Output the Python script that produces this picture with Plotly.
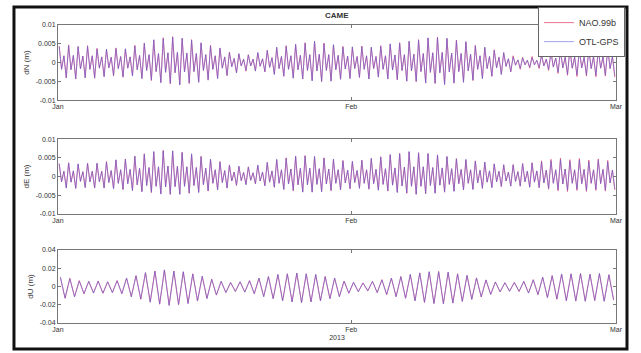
import numpy as np
import pandas as pd
import plotly.graph_objects as go
from plotly.subplots import make_subplots

# ---- data (daily high / low excursions, millimetres), Jan 1 .. Feb 28, 2013 ----
days = pd.date_range("2013-01-01", periods=59, freq="D")

dN_nao_hi = [4.4, 4.7, 4.2, 4.5, 3.8, 3.5, 3.9, 3.6, 4.6, 5.2, 6.0, 6.6, 6.9, 6.4, 6.1,
             5.2, 4.6, 3.8, 2.8, 2.3, 2.1, 2.6, 3.3, 4.0, 4.5, 4.8, 5.3, 5.6, 5.2, 4.7, 4.3,
             4.1, 4.4, 4.0, 4.5, 4.9, 5.3, 5.6, 6.1, 6.5, 6.8, 6.4, 6.0, 5.5,
             4.6, 4.0, 3.4, 2.6, 1.8, 1.4, 1.6, 2.2, 3.0, 3.5, 3.8, 3.6, 3.9, 3.7, 4.0]
dN_nao_lo = [-4.1, -4.4, -4.0, -4.2, -3.7, -3.6, -3.9, -3.5, -4.2, -4.8, -5.3, -5.7, -5.9, -5.6, -5.2,
             -4.7, -4.2, -3.5, -2.7, -2.3, -2.2, -2.5, -3.1, -3.7, -4.1, -4.4, -4.8, -5.1, -4.9, -4.5, -4.2,
             -4.0, -4.3, -3.9, -4.3, -4.6, -4.9, -5.1, -5.4, -5.6, -5.8, -5.5, -5.2, -4.8,
             -4.2, -3.7, -3.1, -2.5, -1.8, -1.5, -1.6, -2.1, -2.9, -3.4, -3.7, -3.6, -3.8, -3.6, -3.9]
dN_otl_hi = [4.2, 4.5, 4.3, 4.3, 3.6, 3.6, 3.7, 3.7, 4.4, 5.1, 6.1, 6.4, 6.7, 6.5, 5.9,
             5.3, 4.4, 3.9, 2.6, 2.4, 2.0, 2.7, 3.2, 4.1, 4.3, 4.9, 5.1, 5.7, 5.0, 4.8, 4.1,
             4.2, 4.2, 4.1, 4.3, 5.0, 5.1, 5.7, 5.9, 6.6, 6.6, 6.5, 5.8, 5.6,
             4.4, 4.1, 3.2, 2.7, 1.5, 1.2, 1.3, 1.9, 2.6, 3.1, 3.4, 3.2, 3.5, 3.3, 3.6]
dN_otl_lo = [-4.0, -4.3, -4.1, -4.0, -3.8, -3.4, -3.8, -3.6, -4.3, -4.6, -5.4, -5.5, -6.0, -5.4, -5.3,
             -4.5, -4.3, -3.4, -2.8, -2.1, -2.3, -2.4, -3.2, -3.6, -4.2, -4.3, -4.9, -5.0, -5.0, -4.4, -4.3,
             -3.9, -4.4, -3.8, -4.4, -4.5, -5.0, -5.0, -5.5, -5.5, -5.9, -5.4, -5.3, -4.7,
             -4.3, -3.6, -3.2, -2.4, -1.5, -1.2, -1.3, -1.8, -2.6, -3.1, -3.3, -3.3, -3.4, -3.3, -3.5]
# inner (secondary semi-diurnal) excursion of the dense band
dN_band = [1.8, 1.9, 1.7, 1.8, 1.5, 1.4, 1.6, 1.5, 1.9, 2.1, 2.4, 2.6, 2.7, 2.5, 2.4,
           2.1, 1.8, 1.5, 1.1, 0.9, 0.9, 1.0, 1.3, 1.6, 1.8, 1.9, 2.1, 2.2, 2.1, 1.9,
           1.7, 1.6, 1.8, 1.6, 1.8, 2.0, 2.1, 2.2, 2.4, 2.6, 2.7, 2.5, 2.4, 2.2, 1.8,
           1.6, 1.4, 1.0, 0.7, 0.6, 0.6, 0.9, 1.2, 1.4, 1.5, 1.4, 1.6, 1.5, 1.6]

dE_nao_hi = [3.4, 3.7, 3.3, 3.6, 3.5, 4.0, 4.4, 4.7, 5.4, 6.1, 6.6, 7.0, 6.8, 6.5, 6.0, 5.4,
             4.6, 4.0, 3.1, 2.7, 2.6, 3.0, 3.8, 4.5, 5.0, 5.4, 5.6, 5.3, 5.0, 4.6,
             4.3, 4.0, 4.4, 4.8, 5.3, 5.8, 6.2, 6.6, 6.4, 6.1, 5.8, 5.3,
             4.8, 4.5, 4.2, 3.8, 3.4, 3.1, 3.2, 3.5, 3.7, 4.2, 4.6, 4.9, 4.5, 4.8, 4.4, 4.7, 4.3]
dE_nao_lo = [-3.0, -3.2, -2.9, -3.1, -3.0, -3.2, -3.5, -3.7, -4.0, -4.3, -4.6, -4.8, -4.7, -4.5, -4.2, -3.9,
             -3.5, -3.1, -2.4, -2.1, -2.0, -2.4, -2.9, -3.4, -3.8, -4.1, -4.2, -4.0, -3.8, -3.5,
             -3.3, -3.1, -3.4, -3.6, -3.9, -4.2, -4.5, -4.7, -4.6, -4.4, -4.2, -3.9,
             -3.6, -3.4, -3.2, -2.9, -2.7, -2.5, -2.6, -2.8, -3.0, -3.4, -3.8, -4.0, -3.7, -4.0, -3.7, -3.9, -3.6]
dE_otl_hi = [3.5, 3.6, 3.4, 3.5, 3.6, 3.9, 4.5, 4.6, 5.5, 6.0, 6.7, 6.9, 6.9, 6.4, 6.1, 5.3,
             4.7, 3.9, 3.0, 2.8, 2.5, 3.1, 3.7, 4.6, 4.9, 5.5, 5.5, 5.4, 4.9, 4.7,
             4.2, 4.1, 4.3, 4.9, 5.2, 5.9, 6.1, 6.7, 6.3, 6.2, 5.7, 5.4,
             4.7, 4.6, 4.1, 3.9, 3.3, 3.2, 3.1, 3.4, 3.6, 3.9, 4.2, 4.5, 4.1, 4.4, 4.0, 4.3, 3.9]
dE_otl_lo = [-3.1, -3.1, -3.0, -3.0, -3.1, -3.3, -3.4, -3.8, -4.1, -4.2, -4.7, -4.7, -4.8, -4.4, -4.3, -3.8,
             -3.6, -3.0, -2.3, -2.2, -1.9, -2.5, -2.8, -3.5, -3.7, -4.2, -4.1, -4.1, -3.7, -3.6,
             -3.2, -3.2, -3.3, -3.7, -3.8, -4.3, -4.4, -4.8, -4.5, -4.5, -4.1, -4.0,
             -3.5, -3.5, -3.1, -3.0, -2.6, -2.6, -2.5, -2.9, -2.9, -3.1, -3.5, -3.6, -3.4, -3.7, -3.4, -3.6, -3.3]
dE_band = [1.4, 1.5, 1.3, 1.4, 1.4, 1.6, 1.8, 1.9, 2.2, 2.4, 2.6, 2.8, 2.7, 2.6, 2.4, 2.2,
           1.8, 1.6, 1.2, 1.1, 1.0, 1.2, 1.5, 1.8, 2.0, 2.2, 2.2, 2.1, 2.0, 1.8,
           1.7, 1.6, 1.8, 1.9, 2.1, 2.3, 2.5, 2.6, 2.6, 2.4, 2.3, 2.1,
           1.9, 1.8, 1.7, 1.5, 1.4, 1.2, 1.3, 1.4, 1.5, 1.7, 1.8, 2.0, 1.8, 1.9, 1.8, 1.9, 1.7]

dU_nao_hi = [10, 9, 6.5, 5.5, 6.0, 5.0, 6.5, 9.0, 12, 15, 17, 18, 17, 16, 14, 11, 8,
             5.5, 4.5, 5.0, 6.5, 9, 11, 13, 14, 14.5, 14, 13, 11, 9, 6, 4.5, 4, 5.5,
             7.5, 9, 11, 13, 15, 16, 16.5, 15.5, 14, 12, 9.5, 7, 5, 4, 4.5, 5.5, 7.5,
             10, 12, 13.5, 14, 14, 13.5, 14, 13]
dU_nao_lo = [-13, -11, -8, -7, -7.5, -6.5, -8, -11, -14, -17, -19.5, -20.5, -20, -18.5, -16, -13, -9.5,
             -6.5, -5.5, -6, -8, -11, -13.5, -15.5, -17, -17.5, -17, -15.5, -13.5, -11, -7.5, -5.5, -5, -6.5,
             -9, -11, -13, -15.5, -17.5, -18.5, -19, -18, -16.5, -14, -11.5, -8.5, -6, -5, -5.5, -7, -9,
             -12, -14, -15.5, -16, -16, -15.5, -16, -15]
dU_otl_hi = [10.5, 8.5, 6.0, 5.8, 5.7, 5.3, 6.2, 9.4, 11.6, 15.4, 16.6, 18.3, 16.7, 16.3, 13.6, 11.4, 7.7,
             5.8, 4.3, 5.3, 6.2, 9.3, 10.7, 13.3, 13.7, 14.8, 13.7, 13.3, 10.7, 9.3, 5.7, 4.8, 3.8, 5.8,
             7.2, 9.3, 10.7, 13.3, 14.7, 16.3, 16.2, 15.8, 13.7, 12.3, 9.2, 7.3, 4.8, 4.2, 4.3, 5.7, 7.2,
             10.3, 11.7, 13.8, 13.7, 14.3, 13.2, 14.3, 12.7]
dU_otl_lo = [-12.6, -11.4, -7.7, -7.3, -7.2, -6.8, -7.7, -11.4, -13.6, -17.4, -19.1, -20.8, -19.7, -18.8, -15.7, -13.3, -9.2,
             -6.8, -5.3, -6.3, -7.7, -11.3, -13.2, -15.8, -16.7, -17.8, -16.7, -15.8, -13.2, -11.3, -7.2, -5.8, -4.7, -6.8,
             -8.7, -11.3, -12.7, -15.8, -17.2, -18.8, -18.7, -18.3, -16.2, -14.3, -11.2, -8.8, -5.7, -5.3, -5.2, -7.3, -8.7,
             -12.3, -13.7, -15.8, -15.7, -16.3, -15.2, -16.3, -14.7]

panel_labels = ["dN (m)", "dE (m)", "dU (m)"]
series_names = ["NAO.99b", "OTL-GPS"]
x_ticks = ["2013-01-01", "2013-02-01", "2013-03-01"]
x_ticklabels = ["Jan", "Feb", "Mar"]
y_ticks_ne = [-0.01, -0.005, 0, 0.005, 0.01]
y_ticklabels_ne = ["-0.01", "-0.005", "0", "0.005", "0.01"]
y_ticks_u = [-0.04, -0.02, 0, 0.02, 0.04]
y_ticklabels_u = ["-0.04", "-0.02", "0", "0.02", "0.04"]


def series_4(hi, lo, band):
    """Daily sequence: high spike, inner low, inner high, low spike (mm -> m)."""
    xs, ys = [], []
    for d, h, l, b in zip(days, hi, lo, band):
        for hr, v in ((3, h), (9, -b), (15, b), (21, l)):
            xs.append(d + pd.Timedelta(hours=hr)); ys.append(v / 1000.0)
    return xs, ys


def series_2(hi, lo):
    """Daily sequence: high then low (mm -> m)."""
    xs, ys = [], []
    for d, h, l in zip(days, hi, lo):
        xs.append(d + pd.Timedelta(hours=6)); ys.append(h / 1000.0)
        xs.append(d + pd.Timedelta(hours=18)); ys.append(l / 1000.0)
    return xs, ys


panel_series = [
    (series_4(dN_nao_hi, dN_nao_lo, dN_band), series_4(dN_otl_hi, dN_otl_lo, dN_band)),
    (series_4(dE_nao_hi, dE_nao_lo, dE_band), series_4(dE_otl_hi, dE_otl_lo, dE_band)),
    (series_2(dU_nao_hi, dU_nao_lo), series_2(dU_otl_hi, dU_otl_lo)),
]

fig = make_subplots(rows=3, cols=1, vertical_spacing=0.1)
nao_color = "rgba(225,70,115,0.85)"
otl_color = "rgba(95,95,215,0.65)"
for i, ((xn, yn), (xo, yo)) in enumerate(panel_series):
    fig.add_trace(go.Scatter(x=xn, y=yn, mode="lines", name=series_names[0],
                             line=dict(color=nao_color, width=0.9), showlegend=(i == 0)),
                  row=i + 1, col=1)
    fig.add_trace(go.Scatter(x=xo, y=yo, mode="lines", name=series_names[1],
                             line=dict(color=otl_color, width=0.9), showlegend=(i == 0)),
                  row=i + 1, col=1)

domains = [[0.748, 1.0], [0.366, 0.617], [0.0, 0.245]]
font_family = "Liberation Sans, Arial, sans-serif"
for i in range(3):
    ax = "yaxis" if i == 0 else f"yaxis{i+1}"
    xa = "xaxis" if i == 0 else f"xaxis{i+1}"
    if i < 2:
        yr, tv, tt = [-0.01, 0.01], y_ticks_ne, y_ticklabels_ne
    else:
        yr, tv, tt = [-0.04, 0.04], y_ticks_u, y_ticklabels_u
    fig.layout[ax].update(domain=domains[i], range=yr, tickvals=tv, ticktext=tt,
                          showgrid=False, zeroline=False, showline=True, linecolor="#777",
                          linewidth=1, mirror="ticks", ticks="inside", ticklen=3,
                          tickcolor="#777", tickfont=dict(size=7, color="#333"),
                          automargin=False,
                          title=dict(text=panel_labels[i], font=dict(size=8, color="#333"),
                                     standoff=4))
    fig.layout[xa].update(range=["2013-01-01", "2013-03-01"], tickvals=x_ticks,
                          ticktext=x_ticklabels, showgrid=False, zeroline=False,
                          showline=True, linecolor="#777", linewidth=1, mirror="ticks",
                          ticks="inside", ticklen=3, tickcolor="#777", automargin=False,
                          tickfont=dict(size=7, color="#333"))
fig.layout["xaxis3"].update(title=dict(text="2013", font=dict(size=7, color="#333"), standoff=2))

fig.update_layout(
    width=641, height=353,
    margin=dict(l=58, r=25, t=25, b=30, autoexpand=False),
    paper_bgcolor="white", plot_bgcolor="white",
    font=dict(family=font_family, color="#333"),
    showlegend=True,
    legend=dict(x=1.016, y=1.06, xanchor="right", yanchor="top",
                bgcolor="white", bordercolor="#666", borderwidth=1,
                font=dict(size=9, color="#333"), tracegroupgap=0),
    annotations=[dict(text="<b>CAME</b>", x=0.5, y=1.0, xref="paper", yref="paper",
                      xanchor="center", yanchor="bottom", yshift=3, showarrow=False,
                      font=dict(size=8, color="#333"))],
    shapes=[dict(type="rect", xref="paper", yref="paper",
                 x0=-0.0789, x1=1.0197, y0=-0.0872, y1=1.0604,
                 line=dict(color="#111", width=3), fillcolor="rgba(0,0,0,0)", layer="below")],
)

fig.write_html("out.html", config={"displayModeBar": False},
               post_script="document.body.style.margin='0';document.body.style.overflow='hidden';")
